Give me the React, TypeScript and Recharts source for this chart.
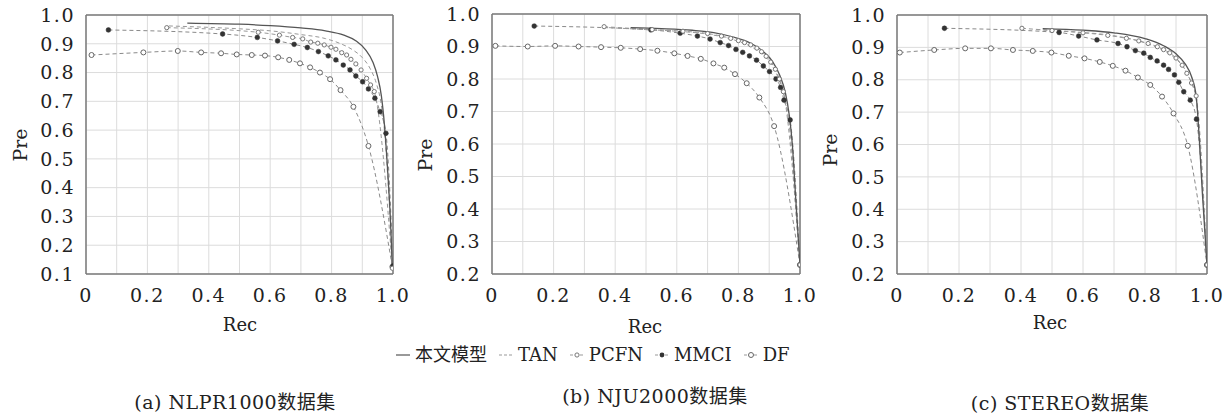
import React from 'react';
import { LineChart, Line, XAxis, YAxis, CartesianGrid, ReferenceLine } from 'recharts';

// [rec, pre] pairs
const nlprOurs = [[0.33, 0.972], [0.5, 0.968], [0.6, 0.963], [0.7, 0.955], [0.78, 0.945], [0.84, 0.93], [0.88, 0.91], [0.91, 0.88], [0.935, 0.835], [0.95, 0.785], [0.962, 0.72], [0.972, 0.62], [0.982, 0.47], [0.992, 0.28], [0.998, 0.12]];
const nlprTan = [[0.27, 0.962], [0.4, 0.957], [0.5, 0.952], [0.6, 0.945], [0.7, 0.932], [0.78, 0.918], [0.83, 0.9], [0.87, 0.878], [0.9, 0.852], [0.925, 0.815], [0.945, 0.765], [0.96, 0.7], [0.972, 0.6], [0.985, 0.4], [0.998, 0.12]];
const nlprPcfn = [[0.263, 0.956], [0.561, 0.94], [0.63, 0.93], [0.673, 0.922], [0.706, 0.917], [0.732, 0.906], [0.755, 0.902], [0.776, 0.896], [0.798, 0.888], [0.814, 0.881], [0.833, 0.869], [0.849, 0.861], [0.863, 0.846], [0.879, 0.83], [0.896, 0.809], [0.914, 0.78], [0.927, 0.757], [0.939, 0.734], [0.998, 0.12]];
const nlprMmci = [[0.073, 0.948], [0.445, 0.934], [0.558, 0.922], [0.624, 0.91], [0.678, 0.898], [0.721, 0.887], [0.757, 0.873], [0.789, 0.858], [0.814, 0.844], [0.838, 0.826], [0.86, 0.809], [0.879, 0.788], [0.901, 0.768], [0.92, 0.743], [0.941, 0.711], [0.958, 0.664], [0.977, 0.589], [1.0, 0.128]];
const nlprDf = [[0.018, 0.861], [0.187, 0.87], [0.299, 0.875], [0.375, 0.87], [0.44, 0.867], [0.491, 0.863], [0.54, 0.861], [0.583, 0.859], [0.626, 0.853], [0.662, 0.844], [0.697, 0.832], [0.73, 0.818], [0.762, 0.8], [0.795, 0.777], [0.829, 0.739], [0.871, 0.681], [0.92, 0.545], [0.998, 0.125]];

const njuOurs = [[0.45, 0.958], [0.55, 0.955], [0.65, 0.95], [0.72, 0.943], [0.78, 0.93], [0.84, 0.91], [0.88, 0.885], [0.91, 0.855], [0.935, 0.81], [0.952, 0.76], [0.965, 0.69], [0.975, 0.6], [0.985, 0.45], [0.993, 0.33], [1.0, 0.228]];
const njuTan = [[0.38, 0.958], [0.5, 0.952], [0.6, 0.947], [0.7, 0.938], [0.78, 0.922], [0.84, 0.9], [0.88, 0.874], [0.91, 0.84], [0.935, 0.79], [0.952, 0.735], [0.965, 0.66], [0.978, 0.52], [0.99, 0.35], [1.0, 0.228]];
const njuPcfn = [[0.364, 0.961], [0.52, 0.952], [0.62, 0.947], [0.7, 0.94], [0.745, 0.932], [0.775, 0.925], [0.8, 0.918], [0.82, 0.912], [0.84, 0.905], [0.86, 0.895], [0.875, 0.884], [0.89, 0.87], [0.905, 0.852], [0.92, 0.83], [0.933, 0.8], [0.946, 0.761], [1.0, 0.228]];
const njuMmci = [[0.137, 0.963], [0.516, 0.951], [0.611, 0.941], [0.667, 0.932], [0.708, 0.923], [0.741, 0.912], [0.768, 0.903], [0.792, 0.891], [0.814, 0.882], [0.836, 0.871], [0.859, 0.858], [0.881, 0.84], [0.901, 0.823], [0.922, 0.8], [0.937, 0.774], [0.948, 0.735], [0.968, 0.674], [1.0, 0.228]];
const njuDf = [[0.011, 0.902], [0.116, 0.9], [0.205, 0.902], [0.281, 0.9], [0.354, 0.898], [0.418, 0.896], [0.481, 0.892], [0.537, 0.887], [0.592, 0.879], [0.635, 0.871], [0.678, 0.862], [0.719, 0.848], [0.754, 0.835], [0.789, 0.815], [0.827, 0.787], [0.868, 0.743], [0.916, 0.655], [1.0, 0.228]];

const stereoOurs = [[0.47, 0.958], [0.6, 0.953], [0.7, 0.945], [0.8, 0.927], [0.86, 0.905], [0.9, 0.88], [0.93, 0.848], [0.95, 0.81], [0.965, 0.75], [0.975, 0.62], [0.985, 0.45], [1.0, 0.228]];
const stereoTan = [[0.45, 0.955], [0.6, 0.946], [0.7, 0.936], [0.8, 0.914], [0.86, 0.89], [0.9, 0.864], [0.93, 0.83], [0.95, 0.79], [0.965, 0.74], [0.98, 0.55], [1.0, 0.228]];
const stereoPcfn = [[0.403, 0.959], [0.5, 0.952], [0.6, 0.945], [0.68, 0.937], [0.74, 0.928], [0.78, 0.92], [0.81, 0.912], [0.84, 0.902], [0.86, 0.893], [0.88, 0.883], [0.9, 0.867], [0.92, 0.845], [0.935, 0.82], [0.95, 0.79], [0.965, 0.75], [1.0, 0.228]];
const stereoMmci = [[0.153, 0.959], [0.523, 0.946], [0.586, 0.935], [0.645, 0.923], [0.713, 0.912], [0.742, 0.902], [0.769, 0.89], [0.796, 0.882], [0.817, 0.869], [0.839, 0.858], [0.86, 0.845], [0.876, 0.832], [0.895, 0.815], [0.909, 0.792], [0.925, 0.763], [0.946, 0.737], [0.966, 0.678], [1.0, 0.228]];
const stereoDf = [[0.009, 0.884], [0.12, 0.892], [0.22, 0.897], [0.303, 0.897], [0.374, 0.892], [0.438, 0.889], [0.498, 0.884], [0.554, 0.874], [0.605, 0.866], [0.654, 0.855], [0.696, 0.843], [0.737, 0.828], [0.777, 0.807], [0.817, 0.784], [0.855, 0.748], [0.892, 0.696], [0.938, 0.596], [1.0, 0.228]];

const xTicks = [0, 0.1, 0.2, 0.3, 0.4, 0.5, 0.6, 0.7, 0.8, 0.9, 1.0];
const yTicksA = [0.1, 0.2, 0.3, 0.4, 0.5, 0.6, 0.7, 0.8, 0.9, 1.0];
const yTicksB = [0.2, 0.3, 0.4, 0.5, 0.6, 0.7, 0.8, 0.9, 1.0];
const xLabeled = [0, 0.2, 0.4, 0.6, 0.8, 1.0];

const FONT = '"DejaVu Serif", "Noto Sans CJK SC", serif';
const FRAME = '#7a7a7a';
const GRID = '#dcdcdc';
const tickStyle = { fill: '#222', fontSize: 19, fontFamily: FONT, letterSpacing: 1.5 };

const toPts = (arr: number[][]) => arr.map(([rec, pre]) => ({ rec, pre }));

const dfDot = (p: any) =>
  p.cx == null ? <g key={`d${p.index}`} /> : (
    <circle key={`d${p.index}`} cx={p.cx} cy={p.cy} r={2.5} fill="#fff" stroke="#666" strokeWidth={1} />
  );
const pcfnDot = (p: any) =>
  p.cx == null ? <g key={`p${p.index}`} /> : (
    <circle key={`p${p.index}`} cx={p.cx} cy={p.cy} r={2.1} fill="#fff" stroke="#777" strokeWidth={1} />
  );
const mmciDot = (p: any) =>
  p.cx == null ? <g key={`m${p.index}`} /> : (
    <circle key={`m${p.index}`} cx={p.cx} cy={p.cy} r={2.4} fill="#333" stroke="#333" strokeWidth={0.5} />
  );

interface PanelProps {
  left: number;
  width: number;
  marginLeft: number;
  marginRight: number;
  top: number;
  yMin: number;
  yTicks: number[];
  ours: number[][];
  tan: number[][];
  pcfn: number[][];
  mmci: number[][];
  df: number[][];
}

function Panel(p: PanelProps) {
  const fmtX = (v: number) => (xLabeled.some((t) => Math.abs(t - v) < 1e-6) ? (v === 0 ? '0' : v.toFixed(1)) : '');
  return (
    <div style={{ position: 'absolute', left: p.left, top: 0 }}>
      <LineChart
        width={p.width}
        height={318}
        margin={{ top: p.top, right: p.marginRight, bottom: 0, left: p.marginLeft }}
      >
        <CartesianGrid stroke={GRID} strokeWidth={1} />
        <XAxis
          type="number"
          dataKey="rec"
          domain={[0, 1]}
          ticks={xTicks}
          tickFormatter={fmtX}
          height={44}
          tickLine={false}
          tickMargin={9}
          axisLine={{ stroke: FRAME, strokeWidth: 1.5 }}
          tick={tickStyle}
          allowDataOverflow
        />
        <YAxis
          type="number"
          domain={[p.yMin, 1]}
          ticks={p.yTicks}
          tickFormatter={(v: number) => v.toFixed(1)}
          width={50}
          tickLine={false}
          tickMargin={5}
          axisLine={{ stroke: FRAME, strokeWidth: 1.5 }}
          tick={tickStyle}
          allowDataOverflow
        />
        <ReferenceLine y={1} stroke={FRAME} strokeWidth={1.5} />
        <ReferenceLine x={1} stroke={FRAME} strokeWidth={1.5} />
        <Line data={toPts(p.df)} dataKey="pre" type="monotone" stroke="#8a8a8a" strokeWidth={1} strokeDasharray="4 3" dot={dfDot} activeDot={false} isAnimationActive={false} />
        <Line data={toPts(p.mmci)} dataKey="pre" type="monotone" stroke="#8a8a8a" strokeWidth={1} strokeDasharray="4 3" dot={mmciDot} activeDot={false} isAnimationActive={false} />
        <Line data={toPts(p.pcfn)} dataKey="pre" type="monotone" stroke="#999" strokeWidth={1} strokeDasharray="4 3" dot={pcfnDot} activeDot={false} isAnimationActive={false} />
        <Line data={toPts(p.tan)} dataKey="pre" type="monotone" stroke="#999" strokeWidth={1} strokeDasharray="4 3" dot={false} activeDot={false} isAnimationActive={false} />
        <Line data={toPts(p.ours)} dataKey="pre" type="monotone" stroke="#555" strokeWidth={1.3} dot={false} activeDot={false} isAnimationActive={false} />
      </LineChart>
    </div>
  );
}

const textStyle: React.CSSProperties = {
  position: 'absolute',
  fontFamily: FONT,
  color: '#222',
  whiteSpace: 'nowrap',
  lineHeight: 1,
};

function AxisTitles({ preX, preY, recX, recY }: { preX: number; preY: number; recX: number; recY: number }) {
  return (
    <>
      <div style={{ ...textStyle, fontSize: 19, left: preX, top: preY, transform: 'translate(-50%, -50%) rotate(-90deg)' }}>Pre</div>
      <div style={{ ...textStyle, fontSize: 18, left: recX, top: recY, transform: 'translate(-50%, -50%)' }}>Rec</div>
    </>
  );
}

function Swatch({ kind }: { kind: string }) {
  return (
    <svg width={16} height={12} style={{ marginRight: 4 }}>
      <line x1={1} y1={6} x2={15} y2={6} stroke={kind === 'ours' ? '#555' : '#999'} strokeWidth={1.2} strokeDasharray={kind === 'ours' ? undefined : '3 2'} />
      {kind === 'pcfn' && <circle cx={8} cy={6} r={2.1} fill="#fff" stroke="#777" />}
      {kind === 'mmci' && <circle cx={8} cy={6} r={2.4} fill="#333" />}
      {kind === 'df' && <circle cx={8} cy={6} r={2.5} fill="#fff" stroke="#666" />}
    </svg>
  );
}

const legendItems = [
  { kind: 'ours', label: '本文模型' },
  { kind: 'tan', label: 'TAN' },
  { kind: 'pcfn', label: 'PCFN' },
  { kind: 'mmci', label: 'MMCI' },
  { kind: 'df', label: 'DF' },
];

export default function App() {
  return (
    <div style={{ position: 'absolute', left: 0, top: 0, width: 1229, height: 418, background: '#fff', overflow: 'hidden' }}>
      <Panel left={0} width={410} marginLeft={36} marginRight={17} top={15} yMin={0.1} yTicks={yTicksA} ours={nlprOurs} tan={nlprTan} pcfn={nlprPcfn} mmci={nlprMmci} df={nlprDf} />
      <Panel left={410} width={410} marginLeft={32} marginRight={20} top={14} yMin={0.2} yTicks={yTicksB} ours={njuOurs} tan={njuTan} pcfn={njuPcfn} mmci={njuMmci} df={njuDf} />
      <Panel left={820} width={409} marginLeft={27} marginRight={22} top={15} yMin={0.2} yTicks={yTicksB} ours={stereoOurs} tan={stereoTan} pcfn={stereoPcfn} mmci={stereoMmci} df={stereoDf} />

      <AxisTitles preX={20} preY={145} recX={240} recY={325} />
      <AxisTitles preX={425} preY={155} recX={645} recY={327} />
      <AxisTitles preX={830} preY={150} recX={1050} recY={323} />

      <div style={{ ...textStyle, left: 395, top: 346, display: 'flex', alignItems: 'center', fontSize: 18 }}>
        {legendItems.map((it) => (
          <span key={it.kind} style={{ display: 'flex', alignItems: 'center', marginRight: 11 }}>
            <Swatch kind={it.kind} />
            {it.label}
          </span>
        ))}
      </div>

      <div style={{ ...textStyle, fontSize: 19, letterSpacing: 0.5, left: 235, top: 402, transform: 'translate(-50%, -50%)' }}>(a) NLPR1000数据集</div>
      <div style={{ ...textStyle, fontSize: 19, letterSpacing: 0.5, left: 655, top: 396, transform: 'translate(-50%, -50%)' }}>(b) NJU2000数据集</div>
      <div style={{ ...textStyle, fontSize: 19, letterSpacing: 0.5, left: 1060, top: 403, transform: 'translate(-50%, -50%)' }}>(c) STEREO数据集</div>
    </div>
  );
}
